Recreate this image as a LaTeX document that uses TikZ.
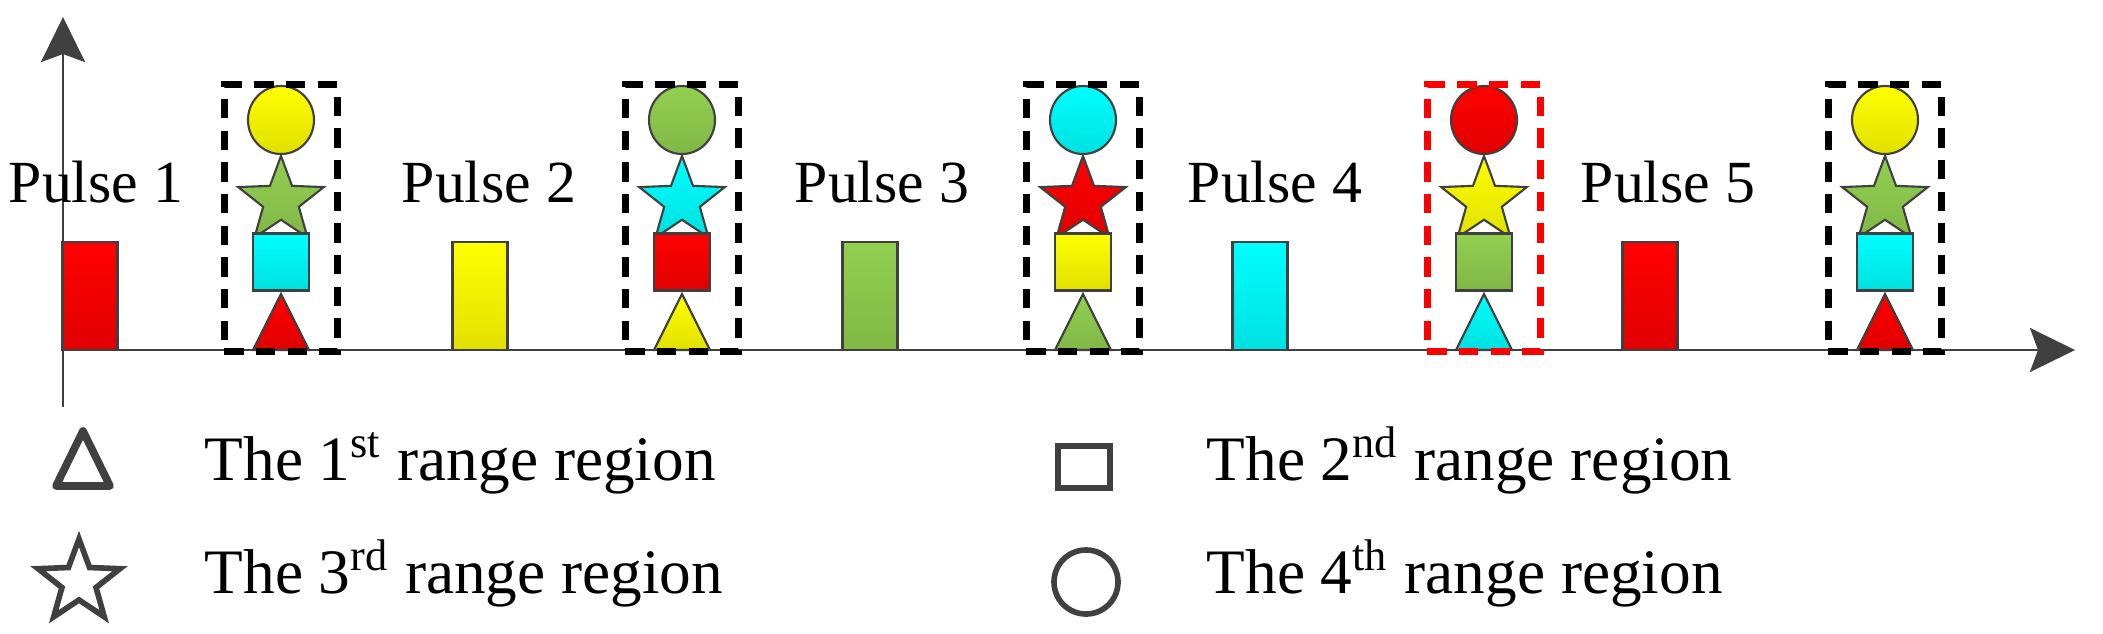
\documentclass[tikz,border=0pt]{standalone}
\usepackage{fontspec}
\setmainfont{Liberation Serif}
\usetikzlibrary{arrows.meta,shapes.geometric}

\definecolor{cRed}{RGB}{255,0,0}
\definecolor{cYel}{RGB}{255,255,0}
\definecolor{cGrn}{RGB}{146,208,80}
\definecolor{cCya}{RGB}{0,255,255}
\definecolor{axisgray}{RGB}{64,64,64}

\begin{document}
\begin{tikzpicture}[x=0.01cm,y=-0.01cm]
    \tikzset { fillc/.style = { draw=axisgray,line width=0.6pt,top color=#1,bottom color=#1!88!black } }
    \tikzset { pulse/.style = { fillc=#1,shape=rectangle,minimum width=0.55cm,minimum height=1.08cm,inner sep=0pt } }
    \tikzset { ball/.style = { fillc=#1,shape=ellipse,minimum width=0.66cm,minimum height=0.68cm,inner sep=0pt } }
    \tikzset { starn/.style = { fillc=#1,shape=star,star points=5,star point ratio=2.4,minimum size=0.9cm,inner sep=0pt } }
    \tikzset { sq/.style = { fillc=#1,shape=rectangle,minimum width=0.56cm,minimum height=0.57cm,inner sep=0pt } }
    \tikzset { grp/.style = { draw=#1,line width=2pt,dash pattern=on 5.5pt off 3.5pt,minimum width=1.13cm,minimum height=2.66cm,inner sep=0pt } }
    \tikzset { lbl/.style = { font=\fontsize{17}{20}\selectfont,inner sep=0pt,anchor=base } }
    \tikzset { leg/.style = { font=\fontsize{18}{21}\selectfont,inner sep=0pt,anchor=base west } }
    \tikzset { axis/.style = { draw=axisgray,line width=0.8pt,-{Stealth[length=0.45cm,width=0.44cm,inset=0.08cm]} } }

    \useasboundingbox (0,0) rectangle (2103,633);

    % axes
    \coordinate (o) at (63,350);
    \coordinate (ybot) at (63,407);
    \coordinate (ytop) at (63,17);
    \coordinate (xend) at (2075,350);
    \draw[axis] (ybot) -- (ytop);
    \draw[axis] (o) -- (xend);

    % pulses
    \foreach \i/\c in {1/cRed,2/cYel,3/cGrn,4/cCya,5/cRed} {
      \node[pulse=\c] (p\i) at ({90+390*(\i-1)},296) {};
      \node[lbl] (t\i) at ({96+393*(\i-1)},202) {Pulse \i};
    }

    % range groups
    \foreach \i/\a/\b/\c/\d/\e in {1/cYel/cGrn/cCya/cRed/black,2/cGrn/cCya/cRed/cYel/black,
        3/cCya/cRed/cYel/cGrn/black,4/cRed/cYel/cGrn/cCya/red,5/cYel/cGrn/cCya/cRed/black} {
      \pgfmathsetmacro{\cx}{281+401*(\i-1)}
      \node[ball=\a] (c\i) at (\cx,120) {};
      \node[starn=\b] (s\i) at (\cx,201) {};
      \node[sq=\c] (q\i) at (\cx,262) {};
      \draw[fillc=\d] (\cx-28,350) -- (\cx,294) -- (\cx+28,350) -- cycle;
      \node[grp=\e] (g\i) at (\cx,218) {};
    }

    % legend
    \draw[axisgray,line width=2.2pt,line join=round] (56,486) -- (83,431) -- (110,486) -- cycle;
    \node[draw=axisgray,line width=1.6pt,shape=star,star points=5,star point ratio=2.4,minimum size=0.86cm,inner sep=0pt] (ls) at (79,582) {};
    \draw[axisgray,line width=1.6pt] (1058,446) rectangle (1110,488);
    \node[draw=axisgray,line width=1.6pt,shape=circle,minimum size=0.64cm,inner sep=0pt] (lc) at (1086,582) {};
    \node[leg] (l1) at (204,480) {The 1\textsuperscript{st} range region};
    \node[leg] (l3) at (204,593) {The 3\textsuperscript{rd} range region};
    \node[leg] (l2) at (1206,480) {The 2\textsuperscript{nd} range region};
    \node[leg] (l4) at (1206,593) {The 4\textsuperscript{th} range region};
\end{tikzpicture}
\end{document}
